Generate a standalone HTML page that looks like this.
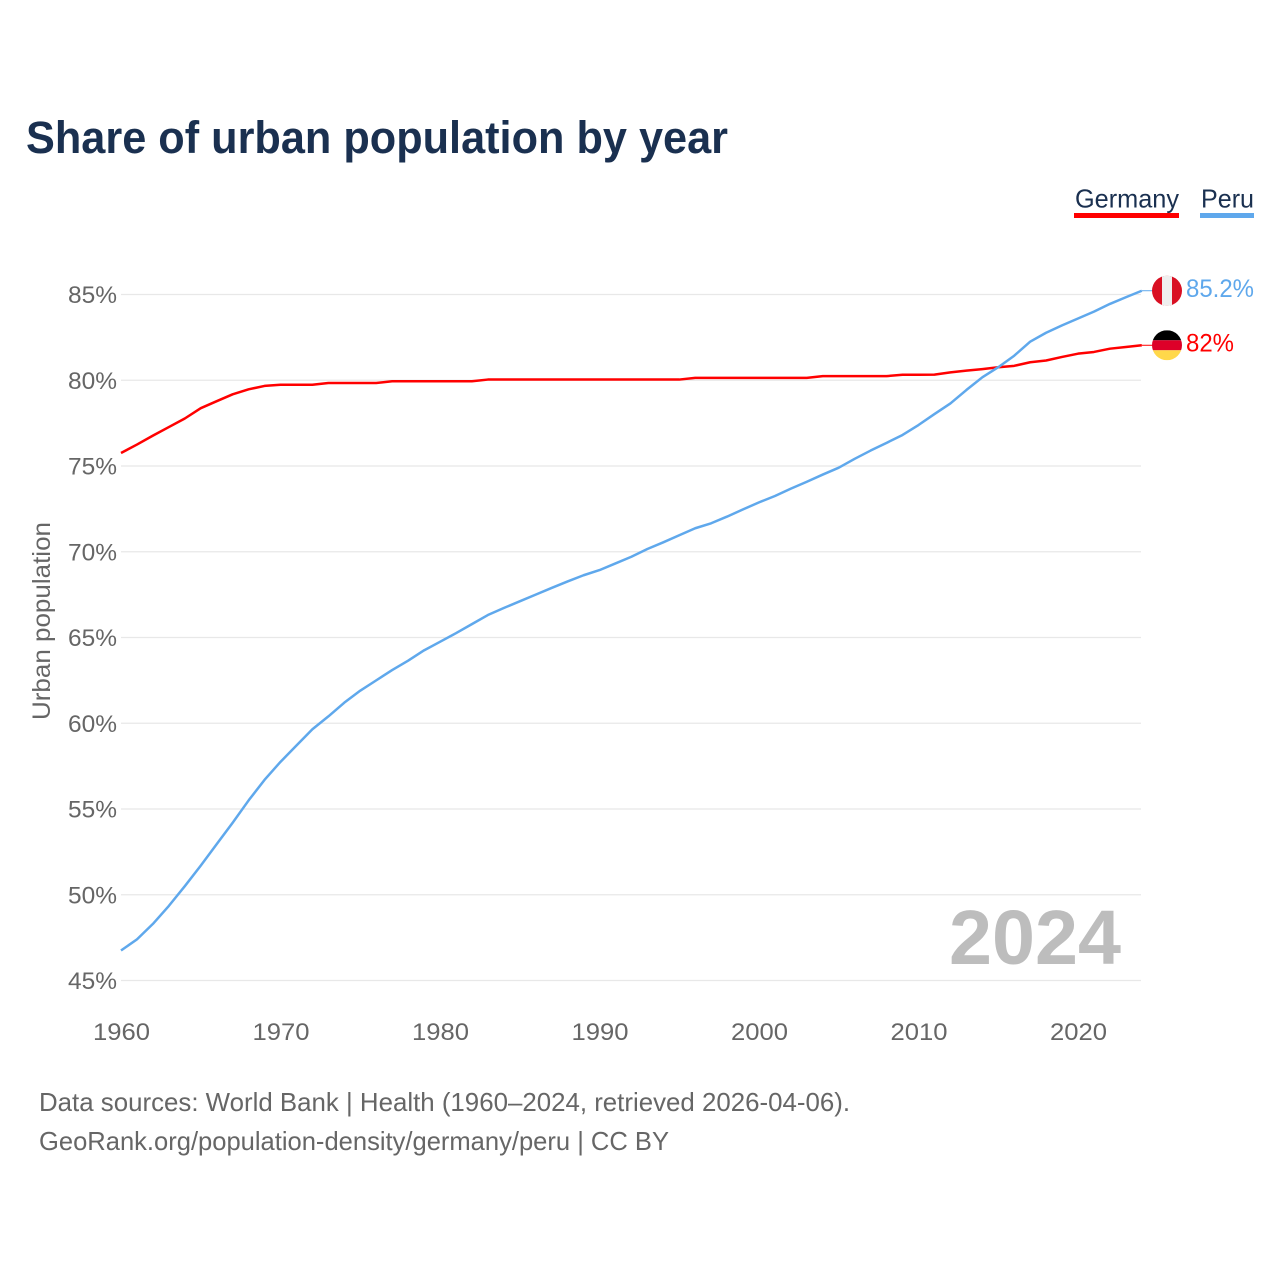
<!DOCTYPE html>
<html>
<head>
<meta charset="utf-8">
<title>Share of urban population by year</title>
<style>
html,body{margin:0;padding:0;background:#fff}
svg{display:block;font-family:"Liberation Sans",sans-serif}
</style>
</head>
<body>
<svg id="chart" width="1280" height="1280" viewBox="0 0 1280 1280" xmlns="http://www.w3.org/2000/svg">
  <text x="26" y="153" font-size="45" font-weight="700" fill="#1a3050" textLength="702" lengthAdjust="spacingAndGlyphs">Share of urban population by year</text>

  <g>
    <g>
      <text x="1075" y="207.5" font-size="26" fill="#1a3050" textLength="104" lengthAdjust="spacingAndGlyphs">Germany</text>
      <rect x="1074" y="213" width="105" height="5" fill="#ff0000"/>
    </g>
    <g>
      <text x="1201" y="207.5" font-size="26" fill="#1a3050" textLength="53" lengthAdjust="spacingAndGlyphs">Peru</text>
      <rect x="1200" y="213" width="54" height="5" fill="#5fa8ec"/>
    </g>
  </g>

  <g id="grid"></g>
  <g id="yticks"></g>
  <g id="xticks"></g>
  <text transform="translate(50,621) rotate(-90)" text-anchor="middle" font-size="25" fill="#666666" textLength="198" lengthAdjust="spacingAndGlyphs">Urban population</text>

  <text x="949" y="964" font-size="77" font-weight="700" fill="#bdbdbd" textLength="172" lengthAdjust="spacingAndGlyphs">2024</text>

  <g id="series"></g>
  <g id="ends"></g>

  <text x="39" y="1111" font-size="26" fill="#666666" textLength="811" lengthAdjust="spacingAndGlyphs">Data sources: World Bank | Health (1960–2024, retrieved 2026-04-06).</text>
  <text x="39" y="1150" font-size="26" fill="#666666" textLength="630" lengthAdjust="spacingAndGlyphs">GeoRank.org/population-density/germany/peru | CC BY</text>
</svg>
<script>
const startYear = 1960;
const yTickValues = [85, 80, 75, 70, 65, 60, 55, 50, 45];
const xTickYears = [1960, 1970, 1980, 1990, 2000, 2010, 2020];
const germanyValues = [75.76,76.25,76.77,77.27,77.77,78.37,78.78,79.18,79.47,79.67,79.74,79.74,79.74,79.84,79.84,79.84,79.84,79.94,79.94,79.94,79.94,79.94,79.94,80.04,80.04,80.04,80.04,80.04,80.04,80.04,80.04,80.04,80.04,80.04,80.04,80.04,80.14,80.14,80.14,80.14,80.14,80.14,80.14,80.14,80.24,80.24,80.24,80.24,80.24,80.32,80.32,80.33,80.46,80.56,80.65,80.76,80.84,81.05,81.15,81.36,81.55,81.65,81.84,81.94,82.04];
const peruValues = [46.75,47.4,48.3,49.35,50.5,51.7,52.95,54.2,55.5,56.7,57.75,58.7,59.65,60.4,61.2,61.9,62.5,63.1,63.65,64.25,64.75,65.25,65.78,66.31,66.72,67.11,67.5,67.89,68.27,68.63,68.93,69.32,69.71,70.16,70.55,70.96,71.37,71.66,72.05,72.47,72.88,73.25,73.68,74.08,74.5,74.9,75.42,75.9,76.35,76.81,77.39,78.03,78.65,79.43,80.17,80.76,81.43,82.25,82.77,83.2,83.6,84.0,84.45,84.84,85.22];
const germanyLabel = "82%";
const peruLabel = "85.2%";

const NS = "http://www.w3.org/2000/svg";
function x(year){ return 121 + (year - 1960) * 15.95; }
function y(v){ return 294.5 + (85 - v) * 17.15; }
function mk(tag, parent, attrs){
  const el = document.createElementNS(NS, tag);
  for (const k in attrs) el.setAttribute(k, attrs[k]);
  parent.appendChild(el);
  return el;
}
const grid = document.getElementById('grid');
const yticks = document.getElementById('yticks');
const xticks = document.getElementById('xticks');
const series = document.getElementById('series');
const ends = document.getElementById('ends');

yTickValues.forEach(function(v){
  const line = mk('line', grid, {x1:121, x2:1141, y1:y(v), y2:y(v), stroke:'#e8e8e8', 'stroke-width':1.2});
  
  
  const t = mk('text', yticks, {x:68, y:y(v)+8.5, 'font-size':24, fill:'#666666', textLength:49, lengthAdjust:'spacingAndGlyphs'});
  t.textContent = v + '%';
  
  
});
xTickYears.forEach(function(yr){
  const t = mk('text', xticks, {x:x(yr)-28, y:1040, 'font-size':24, fill:'#666666', textLength:57, lengthAdjust:'spacingAndGlyphs'});
  t.textContent = yr;
  
  
});
function pathFor(vals){
  return vals.map(function(v,i){ return (i ? 'L' : 'M') + x(startYear+i).toFixed(2) + ' ' + y(v).toFixed(2); }).join(' ');
}
const germanyLine = mk('path', series, {d:pathFor(germanyValues), fill:'none', stroke:'#ff0000', 'stroke-width':2.5, 'stroke-linejoin':'round'});


const peruLine = mk('path', series, {d:pathFor(peruValues), fill:'none', stroke:'#5fa8ec', 'stroke-width':2.5, 'stroke-linejoin':'round'});



const lastX = x(startYear + peruValues.length - 1);
const cx = 1167, r = 15;

// Peru end marker
const py = y(peruValues[peruValues.length-1]);
const peruLeader = mk('line', ends, {x1:lastX, x2:cx-r, y1:py, y2:py, stroke:'#5fa8ec', 'stroke-width':1});


const peruFlag = mk('g', ends, {});


const peruClip = mk('clipPath', peruFlag, {id:'clip-peru'});
mk('circle', peruClip, {cx:cx, cy:py, r:r});
const peruBody = mk('g', peruFlag, {'clip-path':'url(#clip-peru)'});
mk('rect', peruBody, {x:cx-r, y:py-r, width:r*2, height:r*2, fill:'#d91023'});
mk('rect', peruBody, {x:cx-5, y:py-r, width:10, height:r*2, fill:'#efefef'});
const peruValue = mk('text', ends, {x:1186, y:py+6.5, 'font-size':25, fill:'#5fa8ec', textLength:68, lengthAdjust:'spacingAndGlyphs'});
peruValue.textContent = peruLabel;



// Germany end marker
const gy = y(germanyValues[germanyValues.length-1]);
const germanyLeader = mk('line', ends, {x1:lastX, x2:cx-r, y1:gy, y2:gy, stroke:'#ff0000', 'stroke-width':1});


const germanyFlag = mk('g', ends, {});


const germanyClip = mk('clipPath', germanyFlag, {id:'clip-germany'});
mk('circle', germanyClip, {cx:cx, cy:gy, r:r});
const germanyBody = mk('g', germanyFlag, {'clip-path':'url(#clip-germany)'});
mk('rect', germanyBody, {x:cx-r, y:gy-r, width:r*2, height:10, fill:'#000000'});
mk('rect', germanyBody, {x:cx-r, y:gy-r+10, width:r*2, height:10, fill:'#dd0029'});
mk('rect', germanyBody, {x:cx-r, y:gy-r+20, width:r*2, height:10, fill:'#ffd84a'});
const germanyValue = mk('text', ends, {x:1186, y:gy+6, 'font-size':25, fill:'#ff0000', textLength:48, lengthAdjust:'spacingAndGlyphs'});
germanyValue.textContent = germanyLabel;


</script>
</body>
</html>
